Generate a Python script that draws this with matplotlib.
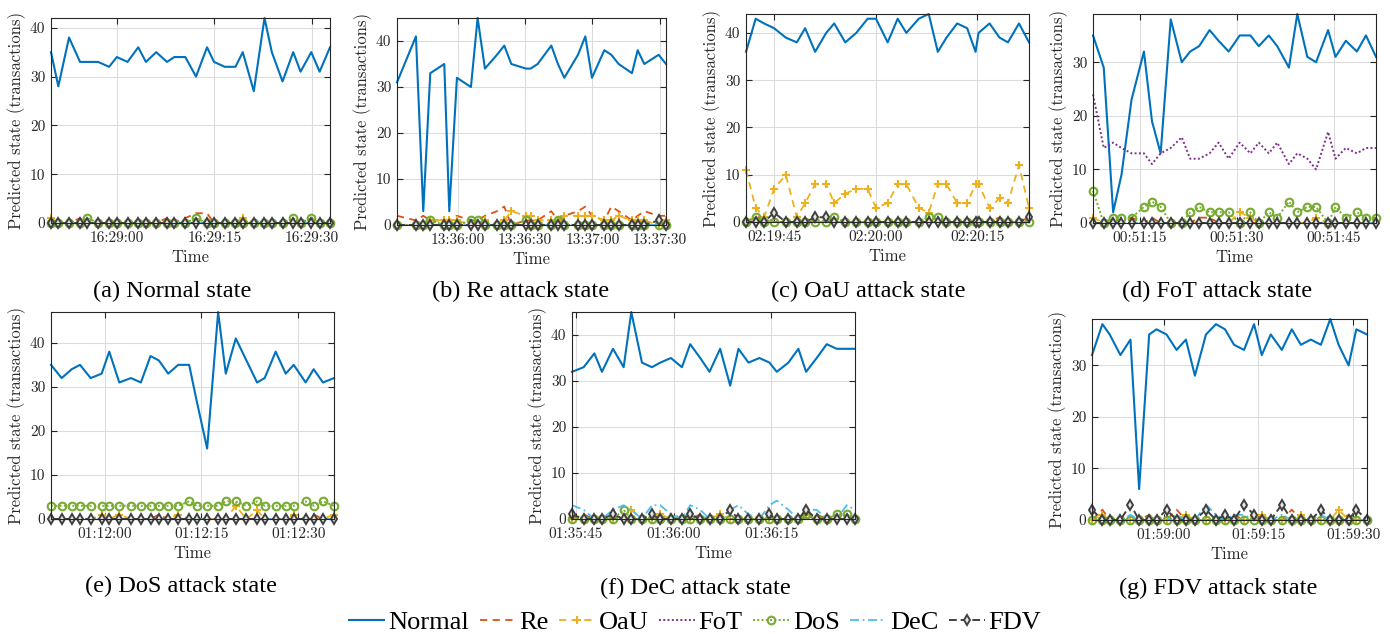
import matplotlib
matplotlib.use("Agg")
import matplotlib.pyplot as plt
from matplotlib.ticker import MultipleLocator, FuncFormatter
from matplotlib.lines import Line2D

# ---------------- data (offsets in seconds from each panel's base clock time) ----------------
SERIES = ["Normal", "Re", "OaU", "FoT", "DoS", "DeC", "FDV"]
CAPTIONS = ["(a) Normal state", "(b) Re attack state", "(c) OaU attack state",
            "(d) FoT attack state", "(e) DoS attack state", "(f) DeC attack state",
            "(g) FDV attack state"]
BASES = ["16:29:00", "13:36:00", "02:20:00", "00:51:30", "01:12:15", "01:36:00", "01:59:15"]
TICK_STEPS = [15, 30, 15, 15, 15, 15, 15]

# (a) Normal
T_A = [-10.2, -9.07, -7.42, -5.72, -4.59, -2.94, -1.24, -0.05, 1.6, 3.25, 4.43, 6.03, 7.68, 8.81, 10.51,
       12.16, 13.86, 14.94, 16.59, 18.24, 19.37, 21.07, 22.72, 23.85, 25.5, 27.15, 28.28, 29.93, 31.22, 32.82]
NORMAL_A = [35, 28, 38, 33, 33, 33, 32, 34, 33, 36, 33, 35, 33, 34, 34, 30, 36, 33, 32, 32, 35, 27, 42, 35, 29, 35, 31, 35, 31, 36]
RE_A = [0, 0, 0, 1, 0, 0, 0, 0, 0, 0, 0, 0, 1, 0, 1, 2, 2, 0, 0, 0, 0, 0, 0, 0, 0, 0, 0, 0, 0, 0]
OAU_A = [1, 0, 0, 0, 0, 0, 0, 0, 0, 0, 0, 0, 0, 0, 0, 0, 0, 0, 0, 0, 1, 0, 0, 0, 0, 0, 0, 0, 0, 0]
FOT_A = [0, 0, 0, 0, 0, 0, 0, 0, 0, 0, 0, 0, 0, 0, 0, 0, 0, 0, 0, 0, 0, 0, 0, 0, 0, 0, 0, 0, 0, 0]
DOS_A = [0, 0, 0, 0, 1, 0, 0, 0, 0, 0, 0, 0, 0, 0, 0, 1, 0, 0, 0, 0, 0, 0, 0, 0, 0, 1, 0, 1, 0, 0]
DEC_A = [0, 0, 0, 0, 0, 0, 0, 0, 0, 0, 0, 0, 0, 0, 0, 0, 0, 0, 0, 0, 0, 0, 0, 0, 0, 0, 0, 0, 0, 0]
FDV_A = [0, 0, 0, 0, 0, 0, 0, 0, 0, 0, 0, 0, 0, 0, 0, 0, 0, 0, 0, 0, 0, 0, 0, 0, 0, 0, 0, 0, 0, 0]

# (b) Re attack
T_B = [-27.2, -18.75, -15.48, -12.35, -6.1, -3.87, -0.45, 5.8, 8.78, 12.05, 17.41, 20.68, 23.81, 30.36, 32.44,
       35.57, 41.67, 44.64, 47.47, 53.57, 56.85, 59.82, 65.33, 68.45, 71.73, 77.68, 80.21, 83.18, 89.58, 92.86]
NORMAL_B = [31, 41, 3, 33, 35, 3, 32, 30, 45, 34, 37, 39, 35, 34, 34, 35, 39, 35, 32, 37, 41, 32, 38, 37, 35, 33, 38, 35, 37, 35]
RE_B = [2, 1, 2, 1, 1, 1, 2, 1, 1, 2, 3, 4, 0, 1, 1, 1, 3, 1, 2, 3, 4, 2, 1, 4, 3, 1, 2, 3, 2, 2]
OAU_B = [0, 0, 0, 1, 1, 1, 1, 0, 0, 1, 0, 1, 3, 2, 2, 1, 1, 1, 2, 2, 2, 2, 1, 1, 2, 1, 1, 1, 0, 1]
FOT_B = [0, 0, 0, 0, 0, 0, 0, 0, 0, 0, 0, 0, 0, 0, 0, 0, 0, 0, 0, 0, 0, 0, 0, 0, 0, 0, 0, 0, 0, 0]
DOS_B = [0, 0, 0, 1, 0, 0, 0, 1, 1, 0, 0, 0, 0, 1, 0, 0, 0, 1, 0, 0, 0, 0, 0, 0, 0, 0, 0, 0, 0, 0]
DEC_B = [0, 0, 0, 0, 0, 0, 0, 0, 0, 0, 0, 0, 0, 0, 0, 0, 0, 0, 0, 0, 0, 0, 0, 0, 0, 0, 0, 0, 0, 0]
FDV_B = [0, 0, 0, 0, 0, 0, 0, 0, 0, 0, 0, 0, 0, 0, 0, 0, 0, 0, 0, 0, 0, 0, 0, 0, 0, 0, 0, 0, 1, 0]

# (c) OaU attack
T_C = [-19.21, -17.78, -16.54, -15.06, -13.33, -11.7, -10.47, -8.99, -7.36, -6.17, -4.54, -2.91, -1.23, 0.0, 1.73,
       3.21, 4.49, 6.32, 7.8, 9.14, 10.42, 12.0, 13.48, 14.72, 15.16, 16.79, 18.27, 19.51, 21.14, 22.62]
NORMAL_C = [36, 43, 42, 41, 39, 38, 41, 36, 40, 42, 38, 40, 43, 43, 38, 43, 40, 43, 44, 36, 39, 42, 41, 36, 40, 42, 39, 38, 42, 38]
RE_C = [0, 1, 1, 0, 0, 0, 0, 0, 0, 0, 0, 0, 0, 0, 0, 0, 0, 0, 0, 0, 0, 0, 0, 0, 0, 0, 1, 0, 0, 1]
OAU_C = [11, 3, 1, 7, 10, 1, 4, 8, 8, 4, 6, 7, 7, 3, 4, 8, 8, 3, 2, 8, 8, 4, 4, 8, 8, 3, 5, 4, 12, 3]
FOT_C = [0, 0, 0, 0, 0, 0, 0, 0, 0, 0, 0, 0, 0, 0, 0, 0, 0, 0, 0, 0, 0, 0, 0, 0, 0, 0, 0, 0, 0, 0]
DOS_C = [0, 1, 0, 0, 0, 0, 0, 0, 0, 1, 0, 0, 0, 0, 0, 0, 0, 0, 1, 1, 0, 0, 0, 0, 0, 0, 0, 0, 0, 0]
DEC_C = [0, 0, 0, 0, 0, 0, 0, 0, 0, 0, 0, 0, 0, 0, 0, 0, 0, 0, 0, 0, 0, 0, 0, 0, 0, 0, 0, 0, 0, 0]
FDV_C = [0, 0, 0, 2, 0, 0, 0, 1, 1, 0, 0, 0, 0, 0, 0, 0, 0, 0, 0, 0, 0, 0, 0, 0, 0, 0, 0, 0, 0, 1]

# (d) FoT attack
T_D = [-22.25, -20.59, -19.14, -17.85, -16.3, -14.38, -13.14, -11.8, -10.24, -8.54, -7.24, -5.85, -4.24, -2.85, -1.29,
       0.41, 2.07, 3.36, 4.91, 6.21, 8.02, 9.31, 10.86, 12.21, 14.07, 15.21, 16.81, 18.52, 19.92, 21.47]
NORMAL_D = [35, 29, 2, 9, 23, 32, 19, 13, 38, 30, 32, 33, 36, 34, 32, 35, 35, 33, 35, 33, 29, 39, 31, 30, 36, 31, 34, 32, 35, 31]
RE_D = [0, 0, 0, 0, 1, 0, 1, 0, 0, 0, 0, 1, 1, 0, 0, 0, 0, 0, 0, 0, 0, 0, 0, 0, 0, 0, 0, 0, 0, 0]
OAU_D = [1, 0, 0, 0, 0, 0, 0, 0, 0, 0, 0, 0, 0, 0, 0, 2, 1, 0, 0, 0, 0, 0, 0, 1, 0, 0, 0, 0, 0, 0]
FOT_D = [24, 14, 15, 14, 13, 13, 11, 13, 14, 16, 12, 12, 13, 15, 12, 15, 13, 15, 13, 15, 11, 13, 12, 10, 17, 12, 14, 13, 14, 14]
DOS_D = [6, 0, 1, 1, 1, 3, 4, 3, 0, 0, 2, 3, 2, 2, 2, 0, 2, 0, 2, 1, 4, 2, 3, 3, 0, 3, 1, 2, 1, 1]
DEC_D = [0, 0, 0, 0, 0, 0, 0, 0, 0, 0, 0, 0, 0, 0, 0, 0, 0, 0, 0, 0, 0, 0, 0, 0, 0, 0, 0, 0, 0, 0]
FDV_D = [0, 0, 0, 0, 0, 0, 0, 0, 0, 0, 0, 0, 0, 0, 0, 0, 0, 0, 0, 0, 0, 0, 0, 0, 0, 0, 0, 0, 0, 0]

# (e) DoS attack
T_E = [-23.3, -21.65, -20.1, -18.81, -17.16, -15.46, -14.28, -12.73, -10.93, -9.38, -7.89, -6.6, -5.15, -3.61, -1.91,
       -0.77, 0.88, 2.58, 3.76, 5.31, 6.96, 8.61, 9.79, 11.49, 13.04, 14.28, 16.13, 17.37, 18.81, 20.52]
NORMAL_E = [35, 32, 34, 35, 32, 33, 38, 31, 32, 31, 37, 36, 33, 35, 35, 27, 16, 47, 33, 41, 36, 31, 32, 38, 33, 35, 31, 34, 31, 32]
RE_E = [0, 0, 0, 0, 0, 0, 0, 0, 0, 0, 0, 1, 0, 0, 0, 0, 0, 0, 0, 0, 0, 0, 0, 0, 0, 0, 0, 1, 0, 0]
OAU_E = [0, 0, 0, 0, 0, 1, 0, 1, 0, 0, 0, 0, 0, 1, 0, 0, 0, 0, 0, 3, 0, 2, 0, 0, 0, 1, 0, 0, 0, 1]
FOT_E = [0, 0, 0, 0, 0, 0, 0, 0, 0, 0, 0, 0, 0, 0, 0, 0, 0, 0, 0, 0, 0, 0, 0, 0, 0, 0, 0, 0, 0, 0]
DOS_E = [3, 3, 3, 3, 3, 3, 3, 3, 3, 3, 3, 3, 3, 3, 4, 3, 3, 3, 4, 4, 3, 4, 3, 3, 3, 3, 4, 3, 4, 3]
DEC_E = [0, 0, 0, 0, 0, 0, 0, 0, 0, 0, 0, 0, 0, 0, 0, 0, 0, 0, 0, 0, 0, 0, 0, 0, 0, 0, 0, 0, 0, 0]
FDV_E = [0, 0, 0, 0, 0, 0, 0, 0, 0, 0, 0, 0, 0, 0, 0, 0, 0, 0, 0, 0, 0, 0, 0, 0, 0, 0, 0, 0, 0, 0]

# (f) DeC attack
T_F = [-15.59, -13.8, -12.16, -10.99, -9.3, -7.66, -6.49, -4.85, -3.32, -2.04, -0.41, 1.28, 2.55, 4.09, 5.52,
       7.15, 8.69, 9.96, 11.5, 13.18, 14.72, 15.84, 17.63, 19.16, 20.34, 21.97, 23.51, 25.04, 26.57, 27.85]
NORMAL_F = [32, 33, 36, 32, 37, 33, 45, 34, 33, 34, 35, 33, 38, 35, 32, 37, 29, 37, 34, 35, 34, 32, 34, 37, 32, 35, 38, 37, 37, 37]
RE_F = [0, 1, 0, 0, 0, 0, 0, 0, 0, 0, 0, 1, 0, 1, 0, 0, 0, 0, 0, 0, 0, 0, 0, 0, 0, 1, 0, 0, 0, 0]
OAU_F = [0, 0, 0, 0, 0, 0, 2, 0, 0, 1, 0, 0, 0, 0, 0, 1, 0, 0, 0, 0, 0, 0, 0, 0, 1, 0, 0, 0, 0, 0]
FOT_F = [0, 0, 0, 0, 0, 0, 0, 0, 0, 0, 0, 0, 0, 0, 0, 0, 0, 0, 0, 0, 0, 0, 0, 0, 0, 0, 0, 0, 0, 0]
DOS_F = [0, 0, 0, 0, 0, 2, 0, 0, 0, 0, 0, 0, 0, 0, 0, 0, 0, 0, 0, 0, 0, 0, 0, 0, 1, 0, 0, 1, 1, 0]
DEC_F = [3, 2, 0, 0, 2, 3, 2, 0, 3, 3, 1, 0, 3, 2, 0, 0, 2, 3, 1, 0, 3, 4, 2, 0, 2, 2, 0, 0, 3, 2]
FDV_F = [1, 0, 0, 0, 1, 0, 0, 0, 1, 0, 0, 0, 1, 0, 0, 0, 2, 0, 0, 0, 1, 0, 0, 0, 2, 0, 0, 0, 0, 0]

# (g) FDV attack
T_G = [-26.31, -24.67, -23.51, -21.82, -20.23, -18.86, -17.27, -16.11, -14.53, -12.94, -11.46, -10.04, -8.29, -6.71, -5.28,
       -3.86, -2.27, -0.69, 0.53, 1.95, 3.7, 5.28, 6.71, 8.29, 9.88, 11.36, 12.68, 14.26, 15.48, 17.17]
NORMAL_G = [32, 38, 36, 32, 35, 6, 36, 37, 36, 33, 35, 28, 36, 38, 37, 34, 33, 38, 32, 36, 33, 37, 34, 35, 34, 39, 34, 30, 37, 36]
RE_G = [0, 2, 0, 0, 0, 0, 1, 0, 0, 2, 0, 0, 0, 0, 0, 1, 0, 0, 1, 0, 0, 2, 0, 0, 0, 0, 0, 1, 0, 0]
OAU_G = [0, 1, 0, 0, 0, 0, 0, 0, 0, 0, 1, 0, 0, 0, 0, 0, 0, 1, 1, 0, 0, 0, 1, 0, 0, 0, 2, 0, 0, 0]
FOT_G = [0, 0, 0, 0, 0, 0, 0, 0, 0, 0, 0, 0, 0, 0, 0, 0, 0, 0, 0, 0, 0, 0, 0, 0, 0, 0, 0, 0, 0, 0]
DOS_G = [0, 0, 0, 0, 0, 0, 0, 0, 0, 0, 0, 0, 0, 0, 0, 0, 0, 0, 0, 0, 0, 0, 0, 0, 0, 0, 0, 0, 0, 0]
DEC_G = [0, 0, 0, 0, 1, 0, 0, 0, 0, 1, 0, 0, 3, 1, 0, 1, 1, 0, 0, 0, 1, 0, 0, 0, 1, 0, 0, 0, 0, 0]
FDV_G = [2, 0, 0, 0, 3, 0, 0, 0, 2, 0, 0, 0, 2, 0, 1, 0, 3, 1, 0, 0, 3, 0, 0, 0, 2, 0, 0, 0, 2, 0]

PANELS = [
    (T_A, [NORMAL_A, RE_A, OAU_A, FOT_A, DOS_A, DEC_A, FDV_A]),
    (T_B, [NORMAL_B, RE_B, OAU_B, FOT_B, DOS_B, DEC_B, FDV_B]),
    (T_C, [NORMAL_C, RE_C, OAU_C, FOT_C, DOS_C, DEC_C, FDV_C]),
    (T_D, [NORMAL_D, RE_D, OAU_D, FOT_D, DOS_D, DEC_D, FDV_D]),
    (T_E, [NORMAL_E, RE_E, OAU_E, FOT_E, DOS_E, DEC_E, FDV_E]),
    (T_F, [NORMAL_F, RE_F, OAU_F, FOT_F, DOS_F, DEC_F, FDV_F]),
    (T_G, [NORMAL_G, RE_G, OAU_G, FOT_G, DOS_G, DEC_G, FDV_G]),
]

# ---------------- styling ----------------
W, H = 1390, 634
STYLES = [
    dict(color="#0072BD", ls="-", lw=1.5),
    dict(color="#D95319", ls=(0, (4, 3)), lw=1.3),
    dict(color="#EDB120", ls=(0, (4, 3)), lw=1.3, marker="+", ms=6, mew=1.5),
    dict(color="#7E2F8E", ls=(0, (1, 1.2)), lw=1.4),
    dict(color="#77AC30", ls=(0, (1, 1.2)), lw=1.4, marker="o", ms=5.5, mew=1.5, mfc="none"),
    dict(color="#4DBEEE", ls=(0, (5, 2, 1, 2)), lw=1.3),
    dict(color="#404040", ls=(0, (4, 2)), lw=1.4, marker="d", ms=5.5, mew=1.4, mfc="#E8E8E8"),
]

# axes boxes in pixels: left, top, right, bottom
BOXES = [(51, 18, 330, 223), (397, 18, 666, 225), (746, 14, 1029, 222), (1093, 14, 1376, 223),
         (51, 312, 334, 519), (572, 312, 855, 519), (1092, 319, 1367, 520)]
CAP_POS = [(172, 291), (521, 291), (868, 291), (1217, 291), (181, 586), (695, 588), (1218, 588)]

CM = "cmr10"
TIMES = "Liberation Serif"
AX_COL = "#262626"


def to_sec(s):
    h, m, x = (int(v) for v in s.split(":"))
    return h * 3600 + m * 60 + x


def clock(v, pos=None):
    v = int(round(v))
    return f"{v // 3600:02d}:{(v % 3600) // 60:02d}:{v % 60:02d}"


fig = plt.figure(figsize=(W / 100, H / 100), dpi=100)

for i, (t, series) in enumerate(PANELS):
    l, tp, r, b = BOXES[i]
    ax = fig.add_axes([l / W, 1 - b / H, (r - l) / W, (b - tp) / H])
    base = to_sec(BASES[i])
    x = [base + v for v in t]
    for vals, st in zip(series, STYLES):
        ax.plot(x, vals, clip_on=False, **st)
    ax.set_xlim(x[0], x[-1])
    ax.set_ylim(0, max(series[0]))
    ax.xaxis.set_major_locator(MultipleLocator(TICK_STEPS[i]))
    ax.xaxis.set_major_formatter(FuncFormatter(clock))
    ax.yaxis.set_major_locator(MultipleLocator(10))
    ax.yaxis.set_major_formatter(FuncFormatter(lambda v, p: f"{v:.0f}"))
    ax.grid(True, color="#DCDCDC", lw=0.8)
    ax.set_axisbelow(True)
    ax.tick_params(direction="in", top=True, right=True, length=4, width=0.8,
                   colors=AX_COL, labelsize=11, labelfontfamily=CM, pad=4)
    ax.tick_params(axis="x", pad=6)
    for sp in ax.spines.values():
        sp.set_color(AX_COL)
        sp.set_linewidth(0.8)
    ax.set_xlabel("Time", fontfamily=CM, fontsize=12, color=AX_COL, labelpad=3)
    ax.set_ylabel("Predicted state (transactions)", fontfamily=CM, fontsize=12,
                  color=AX_COL, labelpad=3)
    cx, cy = CAP_POS[i]
    fig.text(cx / W, 1 - cy / H, CAPTIONS[i], ha="center", va="center",
             fontfamily=TIMES, fontsize=17.5)

handles = [Line2D([], [], **st) for st in STYLES]
fig.legend(handles, SERIES, loc="center", bbox_to_anchor=(695 / W, 1 - 622 / H),
           ncol=7, frameon=False, handlelength=1.35, handletextpad=0.15,
           columnspacing=0.4, numpoints=1, borderpad=0.1,
           prop={"family": TIMES, "size": 19})

fig.savefig("out.png", dpi=100)
